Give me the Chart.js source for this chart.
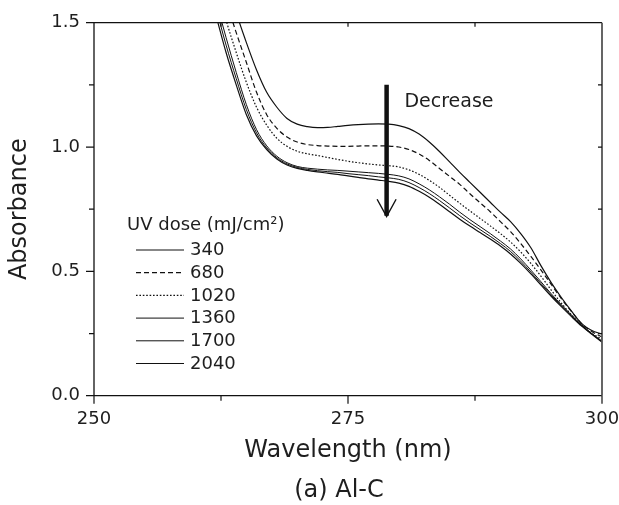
<!DOCTYPE html>
<html><head><meta charset="utf-8">
<script src="https://cdn.jsdelivr.net/npm/chart.js@4"></script>
<style>html,body{margin:0;padding:0;background:#fff}#wrap{width:619px;height:505px}</style>
</head><body><div id="wrap"><canvas id="c" width="619" height="505"></canvas></div>
<script>
// ---- data ----
const wavelengths = [262,263,264,265,266,267,268,269,270,271,272,273,274,275,276,277,278,279,280,281,282,283,284,285,286,287,288,289,290,291,292,293,294,295,296,297,298,299,300];
const doseLabels = ['340','680','1020','1360','1700','2040'];
const abs340  = [1.88,1.68,1.54,1.42,1.31,1.22,1.16,1.115,1.092,1.082,1.078,1.079,1.083,1.087,1.09,1.092,1.093,1.092,1.086,1.074,1.052,1.02,0.982,0.94,0.898,0.858,0.818,0.778,0.738,0.700,0.652,0.595,0.522,0.455,0.395,0.34,0.29,0.262,0.248];
const abs680  = [1.75,1.59,1.46,1.34,1.22,1.13,1.075,1.04,1.02,1.01,1.006,1.004,1.003,1.003,1.004,1.005,1.005,1.004,1.0,0.99,0.972,0.946,0.914,0.882,0.85,0.812,0.776,0.74,0.70,0.66,0.612,0.56,0.505,0.448,0.39,0.338,0.29,0.258,0.236];
const abs1020 = [1.66,1.51,1.38,1.26,1.16,1.088,1.035,1.003,0.983,0.973,0.966,0.958,0.95,0.943,0.937,0.932,0.928,0.925,0.92,0.908,0.89,0.866,0.838,0.806,0.774,0.743,0.713,0.683,0.652,0.618,0.578,0.532,0.48,0.425,0.372,0.325,0.282,0.25,0.228];
const abs1360 = [1.59,1.44,1.30,1.17,1.07,1.005,0.963,0.937,0.922,0.915,0.911,0.908,0.906,0.903,0.9,0.897,0.894,0.89,0.884,0.872,0.852,0.828,0.8,0.77,0.738,0.708,0.68,0.652,0.622,0.59,0.55,0.505,0.458,0.41,0.366,0.324,0.285,0.25,0.22];
const abs1700 = [1.56,1.41,1.275,1.15,1.057,0.997,0.957,0.932,0.918,0.91,0.905,0.901,0.898,0.893,0.889,0.885,0.88,0.876,0.87,0.857,0.837,0.813,0.785,0.755,0.724,0.695,0.668,0.641,0.612,0.58,0.541,0.497,0.451,0.405,0.362,0.321,0.282,0.248,0.217];
const abs2040 = [1.53,1.38,1.25,1.13,1.045,0.99,0.952,0.928,0.914,0.906,0.90,0.895,0.89,0.884,0.878,0.872,0.867,0.862,0.855,0.842,0.822,0.798,0.77,0.74,0.71,0.682,0.656,0.63,0.602,0.57,0.532,0.49,0.445,0.40,0.358,0.318,0.28,0.247,0.215];
const xTickValues = [250,262.5,275,287.5,300];
const xTickLabels = ['250','','275','','300'];
const yTickValues = [0,0.25,0.5,0.75,1.0,1.25,1.5];
const yTickLabels = ['0.0','','0.5','','1.0','','1.5'];
const legendTitle = 'UV dose (mJ/cm²)';
const annotationText = 'Decrease';
const panelCaption = '(a) Al-C';

// ---- styles ----
const FONT = 'DejaVu Sans';
const TXT = '#1e1e1e';
const series = [abs340, abs680, abs1020, abs1360, abs1700, abs2040];
const dashes = [[], [5,3], [1.6,1.8], [], [], []];
const widths = [1.2, 1.2, 1.2, 1.0, 1.0, 1.2];

const datasets = series.map((arr, i) => ({
  label: doseLabels[i],
  data: arr.map((v, j) => ({x: wavelengths[j], y: v})),
  borderColor: '#111',
  borderWidth: widths[i],
  borderDash: dashes[i],
  pointRadius: 0,
  fill: false,
  cubicInterpolationMode: 'monotone'
}));

const framePlugin = {
  id: 'frame',
  afterDraw(chart) {
    const {ctx, chartArea: a, scales: {x, y}} = chart;
    ctx.save();
    ctx.strokeStyle = '#111';
    ctx.lineWidth = 1.3;
    ctx.beginPath();
    ctx.moveTo(a.left, a.top); ctx.lineTo(a.right, a.top);
    ctx.moveTo(a.left, a.top); ctx.lineTo(a.left, a.bottom);
    ctx.moveTo(a.left, a.bottom); ctx.lineTo(a.right, a.bottom);
    ctx.stroke();
    ctx.strokeStyle = '#555';
    ctx.lineWidth = 1.8;
    ctx.beginPath(); ctx.moveTo(a.right, a.top); ctx.lineTo(a.right, a.bottom); ctx.stroke();
    ctx.strokeStyle = '#111';
    ctx.lineWidth = 1.2;
    ctx.beginPath();
    xTickValues.forEach((v, i) => {
      const px = x.getPixelForValue(v);
      const len = xTickLabels[i] ? 8 : 5;
      ctx.moveTo(px, a.bottom); ctx.lineTo(px, a.bottom + len);
      if (i > 0 && i < xTickValues.length - 1) { ctx.moveTo(px, a.top); ctx.lineTo(px, a.top + 4); }
    });
    yTickValues.forEach((v, i) => {
      const py = y.getPixelForValue(v);
      const len = yTickLabels[i] ? 8 : 5;
      ctx.moveTo(a.left, py); ctx.lineTo(a.left - len, py);
      if (i > 0 && i < yTickValues.length - 1) { ctx.moveTo(a.right, py); ctx.lineTo(a.right - 4, py); }
    });
    ctx.stroke();

    // arrow annotation
    const ax = x.getPixelForValue(278.8);
    const ay1 = y.getPixelForValue(1.25);
    const ay2 = y.getPixelForValue(0.72);
    const arm = y.getPixelForValue(0.79);
    ctx.strokeStyle = '#111';
    ctx.lineWidth = 4.5;
    ctx.beginPath(); ctx.moveTo(ax, ay1); ctx.lineTo(ax, ay2 - 1); ctx.stroke();
    ctx.lineWidth = 1.4;
    ctx.beginPath();
    ctx.moveTo(ax - 9.5, arm); ctx.lineTo(ax, ay2); ctx.lineTo(ax + 9.5, arm);
    ctx.stroke();
    ctx.fillStyle = TXT;
    ctx.font = '19px "' + FONT + '"';
    ctx.textAlign = 'left';
    ctx.textBaseline = 'alphabetic';
    ctx.fillText(annotationText, x.getPixelForValue(280.55), y.getPixelForValue(1.159));

    // legend
    ctx.font = '18px "' + FONT + '"';
    ctx.fillText(legendTitle, 127, 230);
    chart.data.datasets.forEach((ds, i) => {
      const ry = 250 + i * 22.7;
      ctx.strokeStyle = '#111';
      ctx.lineWidth = ds.borderWidth;
      ctx.setLineDash(ds.borderDash);
      ctx.beginPath(); ctx.moveTo(136, ry); ctx.lineTo(184, ry); ctx.stroke();
      ctx.setLineDash([]);
      ctx.textBaseline = 'middle';
      ctx.fillText(ds.label, 190, ry + 0.5);
    });

    // panel caption
    ctx.font = '24px "' + FONT + '"';
    ctx.textAlign = 'center';
    ctx.textBaseline = 'alphabetic';
    ctx.fillText(panelCaption, 339, 497);
    ctx.restore();
  }
};

new Chart(document.getElementById('c'), {
  type: 'line',
  data: {datasets},
  options: {
    responsive: false,
    animation: false,
    devicePixelRatio: 1,
    layout: {padding: {top: 22.7, right: 17, left: 0, bottom: 0}},
    plugins: {
      legend: {display: false},
      tooltip: {enabled: false},
      title: {display: false}
    },
    scales: {
      x: {
        type: 'linear', min: 250, max: 300,
        afterBuildTicks: s => { s.ticks = xTickValues.map(v => ({value: v})); },
        afterFit: s => { s.height = 109.3; s.paddingLeft = 0; s.paddingRight = 0; s.paddingTop = 0; s.paddingBottom = 0; },
        grid: {display: false, drawTicks: false},
        border: {display: false},
        ticks: {
          autoSkip: false, maxRotation: 0, padding: 13, color: TXT,
          font: {family: FONT, size: 18},
          callback: (v, i) => xTickLabels[i]
        },
        title: {display: true, text: 'Wavelength (nm)', color: TXT,
          font: {family: FONT, size: 24}, padding: {top: 0, bottom: 40}}
      },
      y: {
        type: 'linear', min: 0, max: 1.5,
        afterBuildTicks: s => { s.ticks = yTickValues.map(v => ({value: v})); },
        afterFit: s => { s.width = 94; s.paddingLeft = 0; s.paddingRight = 0; s.paddingTop = 0; s.paddingBottom = 0; },
        grid: {display: false, drawTicks: false},
        border: {display: false},
        ticks: {
          autoSkip: false, padding: 14, color: TXT,
          font: {family: FONT, size: 18},
          callback: (v, i) => yTickLabels[i]
        },
        title: {display: true, text: 'Absorbance', color: TXT,
          font: {family: FONT, size: 24}, padding: {top: 5.6, bottom: 0}}
      }
    }
  },
  plugins: [framePlugin]
});
</script></body></html>
